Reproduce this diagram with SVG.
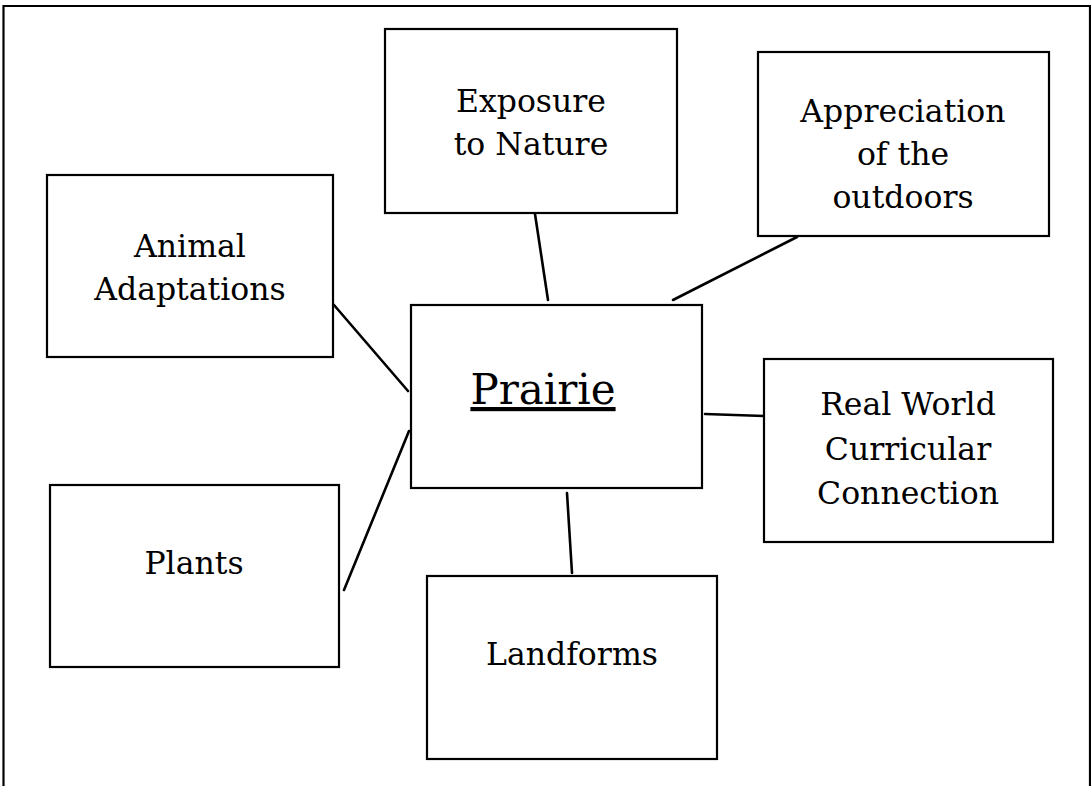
<svg xmlns="http://www.w3.org/2000/svg" width="1091" height="786" viewBox="0 0 1091 786">
<style>
.box{fill:#ffffff;stroke:#000000;stroke-width:2.2}
.lbl{font-family:"DejaVu Serif","Liberation Serif",serif;font-size:31.5px;fill:#000000;text-anchor:middle}
.big{font-family:"DejaVu Serif","Liberation Serif",serif;font-size:42px;fill:#000000;text-anchor:middle;text-decoration:underline}
.con{stroke:#000000;stroke-width:2.6;fill:none;stroke-linecap:round}
</style>
<rect x="0" y="0" width="1091" height="786" fill="#ffffff"/>
<path d="M3.5,800 V6 H1090 V800" fill="none" stroke="#000000" stroke-width="2.2"/>
<g id="connectors">
<line class="con" x1="535" y1="214" x2="548" y2="300"/>
<line class="con" x1="797" y1="237" x2="673" y2="300"/>
<line class="con" x1="334" y1="305" x2="408" y2="391"/>
<line class="con" x1="344" y1="590" x2="409" y2="431"/>
<line class="con" x1="705" y1="414" x2="764" y2="416"/>
<line class="con" x1="567" y1="493" x2="572" y2="573"/>
</g>
<g id="node-prairie">
<rect class="box" x="411" y="305" width="291" height="183"/>
<text class="big" x="543" y="404">Prairie</text>
</g>
<g id="node-exposure">
<rect class="box" x="385" y="29" width="292" height="184"/>
<text class="lbl" x="531" y="112">Exposure</text>
<text class="lbl" x="531" y="155">to Nature</text>
</g>
<g id="node-appreciation">
<rect class="box" x="758" y="52" width="291" height="184"/>
<text class="lbl" x="903" y="122">Appreciation</text>
<text class="lbl" x="903" y="165">of the</text>
<text class="lbl" x="903" y="208">outdoors</text>
</g>
<g id="node-animal">
<rect class="box" x="47" y="175" width="286" height="182"/>
<text class="lbl" x="190" y="257">Animal</text>
<text class="lbl" x="190" y="300">Adaptations</text>
</g>
<g id="node-realworld">
<rect class="box" x="764" y="359" width="289" height="183"/>
<text class="lbl" x="908" y="415">Real World</text>
<text class="lbl" x="908" y="460">Curricular</text>
<text class="lbl" x="908" y="504">Connection</text>
</g>
<g id="node-plants">
<rect class="box" x="50" y="485" width="289" height="182"/>
<text class="lbl" x="194" y="574">Plants</text>
</g>
<g id="node-landforms">
<rect class="box" x="427" y="576" width="290" height="183"/>
<text class="lbl" x="572" y="665">Landforms</text>
</g>
</svg>
